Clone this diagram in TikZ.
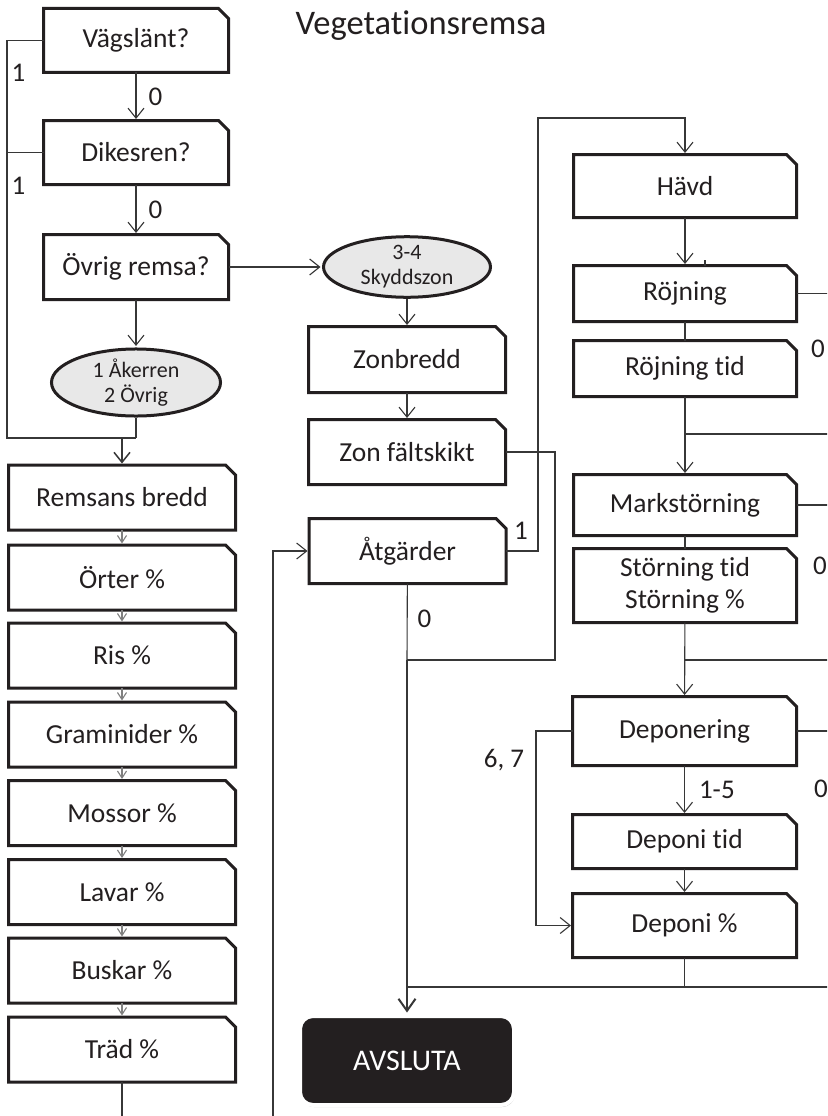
\documentclass[tikz,border=0pt]{standalone}
\usepackage{fontspec}
\setmainfont{Carlito}[Ligatures=NoCommon]
\usetikzlibrary{shapes.geometric, arrows.meta, positioning, shadows}
\definecolor{ink}{RGB}{35,31,32}
\definecolor{oval}{RGB}{232,232,232}
\definecolor{wire}{RGB}{55,55,55}

\begin{document}
\begin{tikzpicture}[x=1pt, y=-1pt,
    card/.style={rectangle, inner sep=0pt, outer sep=0pt, align=center, text=ink,
        font=\fontsize{27.5}{32}\selectfont,
        append after command={\pgfextra{\draw[ink, line width=3pt]
            (\tikzlastnode.south west) -- (\tikzlastnode.north west)
            -- ([xshift=-10pt]\tikzlastnode.north east)
            -- ([yshift=-10pt]\tikzlastnode.north east)
            -- (\tikzlastnode.south east) -- cycle;}}},
    oval/.style={ellipse, draw=ink, line width=3pt, fill=oval, inner sep=0pt, align=center, text=ink,
        font=\fontsize{22}{25}\selectfont},
    endbox/.style={rectangle, rounded corners=13pt, fill=ink, draw=white, line width=4pt, text=white,
        font=\fontsize{30}{34}\selectfont,
        drop shadow={shadow xshift=1pt, shadow yshift=-2pt, fill=black, opacity=0.25}},
    link/.style={draw=wire, line width=1.1pt},
    go/.style={link, -{Straight Barb[length=10pt, width=16pt]}, shorten >=1.5pt},
    tiny/.style={link, draw=gray, -{Straight Barb[length=7pt, width=9pt]}, shorten >=1.5pt},
    flag/.style={font=\fontsize{27}{30}\selectfont, text=ink, inner sep=2pt}
]

\useasboundingbox (0,0) rectangle (827,1116);
\fill[white] (0,0) rectangle (827,1116);
\clip (0,0) rectangle (827,1116);

% Title
\node[font=\fontsize{34.5}{40}\selectfont, text=ink, anchor=base] (title) at (421,35) {Vegetationsremsa};

% Questions
\node[card, minimum width=185pt, minimum height=64pt] (vagslant) at (136,40.5) {Vägslänt?};
\node[card, minimum width=185pt, minimum height=64pt] (dikesren) at (136,152.5) {Dikesren?};
\node[card, minimum width=185pt, minimum height=65pt] (ovrig) at (136,267) {Övrig remsa?};
\node[oval, minimum width=169pt, minimum height=62pt] (akerren) at (136,382.5) {1 Åkerren\\2 Övrig};

% Left stack
\node[card, minimum width=227pt, minimum height=65pt] (remsans) at (122,497.5) {Remsans bredd};
\node[card, minimum width=227pt, minimum height=65pt] (orter) at (122,577.5) {Örter \%};
\node[card, minimum width=227pt, minimum height=65pt] (ris) at (122,655.5) {Ris \%};
\node[card, minimum width=227pt, minimum height=65pt] (graminider) at (122,734.5) {Graminider \%};
\node[card, minimum width=227pt, minimum height=65pt] (mossor) at (122,813) {Mossor \%};
\node[card, minimum width=227pt, minimum height=65pt] (lavar) at (122,892) {Lavar \%};
\node[card, minimum width=227pt, minimum height=65pt] (buskar) at (122,970.5) {Buskar \%};
\node[card, minimum width=227pt, minimum height=65pt] (trad) at (122,1049.5) {Träd \%};

% Skyddszon
\node[oval, minimum width=167pt, minimum height=60pt] (skydd) at (407,267) {3-4\\Skyddszon};
\node[card, minimum width=197pt, minimum height=66pt] (zonbredd) at (407,359.5) {Zonbredd};
\node[card, minimum width=197pt, minimum height=65pt] (zonfalt) at (407,452) {Zon fältskikt};
\node[card, minimum width=197pt, minimum height=65pt] (atgarder) at (407.5,551) {Åtgärder};
\node[endbox, minimum width=214pt, minimum height=89pt] (avsluta) at (407,1060.5) {AVSLUTA};

% Right column
\node[card, minimum width=223pt, minimum height=63pt] (havd) at (685,186) {Hävd};
\node[card, minimum width=223pt, minimum height=56pt] (rojning) at (685,293.5) {Röjning};
\node[card, minimum width=223pt, minimum height=56pt] (rojtid) at (685,368.5) {Röjning tid};
\node[card, minimum width=223pt, minimum height=61pt] (mark) at (685,505) {Markstörning};
\node[card, minimum width=223pt, minimum height=74pt] (storning) at (685,585.5) {Störning tid\\Störning \%};
\node[card, minimum width=224pt, minimum height=69pt] (deponering) at (684.5,731) {Deponering};
\node[card, minimum width=224pt, minimum height=54pt] (deponitid) at (684.5,841.5) {Deponi tid};
\node[card, minimum width=224pt, minimum height=64pt] (deponiproc) at (684.5,925.5) {Deponi \%};

% Joins
\coordinate (jA) at (136,438);
\coordinate (jB) at (407,660);
\coordinate (jC) at (407,987);
\coordinate (jD) at (685,434);
\coordinate (jE) at (685,660);

% Question chain
\draw[go] (vagslant) -- (dikesren) node[flag, midway, right=10pt] {0};
\draw[go] (dikesren) -- (ovrig) node[flag, midway, right=10pt] {0};
\draw[go] (ovrig) -- (akerren);
\draw[go] (ovrig) -- (skydd);
\draw[link] (vagslant.west) -- ++(-36.5,0) |- (jA);
\draw[link] (dikesren.west) -- ++(-36.5,0);
\draw[link] (akerren) -- (jA);
\node[flag] (one1) at (18.5,72.5) {1};
\node[flag] (one2) at (18.5,186) {1};
\draw[go, line width=1.5pt] (jA -| remsans) -- (remsans);

% Left stack arrows
\draw[tiny] (remsans) -- (orter);
\draw[tiny] (orter) -- (ris);
\draw[tiny] (ris) -- (graminider);
\draw[tiny] (graminider) -- (mossor);
\draw[tiny] (mossor) -- (lavar);
\draw[tiny] (lavar) -- (buskar);
\draw[tiny] (buskar) -- (trad);
\draw[go] (trad.south) -- ++(0,48) -| ([xshift=-36pt]atgarder.west) -- (atgarder.west);

% Skyddszon chain
\draw[go] (skydd) -- (zonbredd);
\draw[go] (zonbredd) -- (zonfalt);
\draw[link] (zonfalt.east) -- ++(49.5,0) |- (jB);
\draw[link] (atgarder) -- (jB) node[flag, pos=0.46, right=8pt] {0};
\draw[go, line width=2pt, -{Straight Barb[length=12pt, width=17pt]}] (jB) -- (avsluta);
\draw[go] (atgarder.east) -- ++(32,0) |- ([yshift=36.5pt]havd.north) -- (havd.north);
\node[flag] (one3) at (521,531) {1};

% Right column chain
\draw[go] (havd) -- (rojning);
\draw[link] ([xshift=20pt]rojning.north) -- ++(0,-6);
\draw[link] (rojning) -- (rojtid);
\draw[link] (rojning.east) -- ++(50,0) |- (jD);
\node[flag, anchor=west, inner sep=0pt] (zero1) at (811,349) {0};
\draw[go] (rojtid) -- (mark);
\draw[link] (mark) -- (storning);
\draw[link] (mark.east) -- ++(50,0) |- (jE);
\node[flag, anchor=west, inner sep=0pt] (zero2) at (813,566) {0};
\draw[go] (storning) -- (deponering);
\draw[go] (deponering) -- (deponitid) node[flag, midway, right=12pt] {1-5};
\draw[go] (deponitid) -- (deponiproc);
\draw[go] (deponering.west) -- ++(-36.5,0) |- (deponiproc.west);
\node[flag] (sixseven) at (504,760) {6, 7};
\draw[link] (deponering.east) -- ++(50,0) |- (jC);
\node[flag, anchor=west, inner sep=0pt] (zero3) at (814,789) {0};
\draw[link] (deponiproc) |- (jC);

\end{tikzpicture}
\end{document}
